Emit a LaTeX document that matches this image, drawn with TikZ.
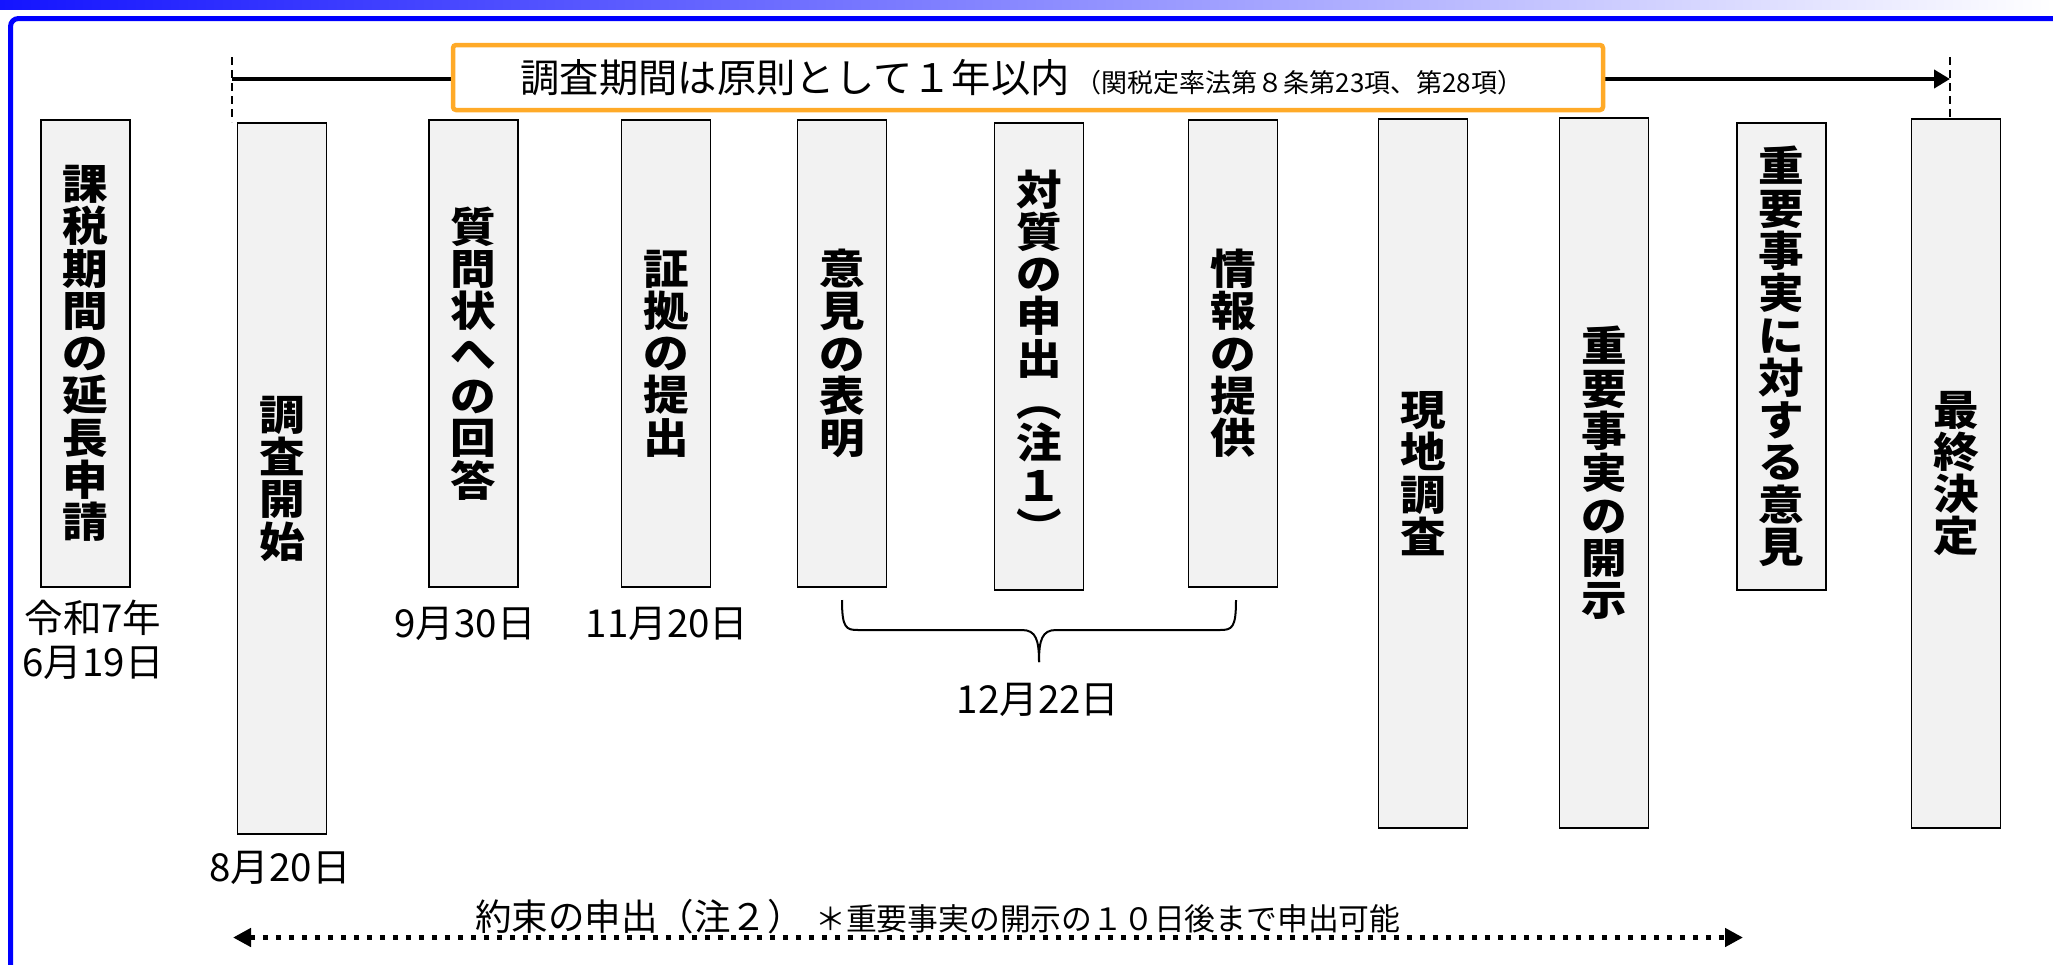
\documentclass[tikz,border=0pt]{standalone}
\usepackage{fontspec}
\setmainfont{Noto Sans CJK JP}
\newfontfamily\vjp{Noto Sans CJK JP}[FakeStretch=1.1]
\usetikzlibrary{arrows.meta}
\definecolor{frameblue}{RGB}{0,0,255}
\definecolor{gradblue}{RGB}{20,20,255}
\definecolor{orangec}{RGB}{255,170,40}
\definecolor{boxfill}{RGB}{242,242,242}
\newcommand{\vfnt}{\vjp\bfseries\fontsize{41.5}{42.3}\selectfont}
\newcommand{\dfnt}{\fontsize{38.5}{44}\selectfont}
\begin{document}
\begin{tikzpicture}[x=1pt,y=-1pt,
  stepbox/.style={draw=black, fill=boxfill, line width=1.8pt, inner sep=0pt, align=center, font=\vfnt, minimum width=89pt},
  shortbox/.style={stepbox, minimum height=467pt},
  longbox/.style={stepbox, minimum height=710pt},
  datelbl/.style={font=\dfnt, inner sep=0pt, align=center},
  dashv/.style={line width=1.5pt, dash pattern=on 8pt off 5pt},
  brc/.style={line width=2pt}]
\useasboundingbox (0,0) rectangle (2053,964);
% header gradient and frame
\shade[left color=gradblue, right color=white] (0,0) rectangle (2053,9);
\draw[frameblue, line width=5pt, rounded corners=8pt] (2100,18.5) -- (10.5,18.5) -- (10.5,1000);
% period arrow
\coordinate (tsu) at (232,57);
\coordinate (tsd) at (232,122);
\coordinate (teu) at (1950,57);
\coordinate (ted) at (1950,118);
\coordinate (ts) at (232,79);
\coordinate (te) at (1950,79);
\draw[dashv] (tsu) -- (tsd);
\draw[dashv] (teu) -- (ted);
\draw[line width=4pt, -{Triangle[length=16pt,width=18pt]}] (ts) -- (te);
\node[draw=orangec, line width=4.5pt, fill=white, rounded corners=3pt, minimum width=1150pt, minimum height=65pt, inner sep=0pt] (title) at (1028,77.5) {};
\node[inner sep=0pt, anchor=base] (titletext) at (1022,92) {{\fontsize{39.3}{41}\selectfont 調査期間は原則として１年以内}\hspace{6pt}{\fontsize{26}{28}\selectfont （関税定率法第８条第23項、第28項）}};
% boxes
\node[shortbox] (b1) at (85.5,353.5) {課\\税\\期\\間\\の\\延\\長\\申\\請};
\node[longbox, minimum height=711pt] (b2) at (282,478.5) {調\\査\\開\\始};
\node[shortbox] (b3) at (473.5,353.5) {質\\問\\状\\へ\\の\\回\\答};
\node[shortbox] (b4) at (666,353.5) {証\\拠\\の\\提\\出};
\node[shortbox] (b5) at (842,353.5) {意\\見\\の\\表\\明};
\node[shortbox] (b6) at (1039,356.5) {対\\質\\の\\申\\出\\︵\\注\\１\\︶};
\node[shortbox] (b7) at (1233,353.5) {情\\報\\の\\提\\供};
\node[longbox, minimum height=709pt] (b8) at (1423,473.5) {現\\地\\調\\査};
\node[longbox] (b9) at (1604,473) {重\\要\\事\\実\\の\\開\\示};
\node[shortbox] (b10) at (1781.5,356.5) {重\\要\\事\\実\\に\\対\\す\\る\\意\\見};
\node[longbox, minimum height=709pt] (b11) at (1956,473.5) {最\\終\\決\\定};
% dates
\node[datelbl] (d1) at (93,640) {令和7年\\6月19日};
\node[datelbl] (d2) at (280,868) {8月20日};
\node[datelbl] (d3) at (465,624) {9月30日};
\node[datelbl] (d4) at (667,624) {11月20日};
\node[datelbl] (d5) at (1038,700) {12月22日};
% brace
\coordinate (brl) at (842,600);
\coordinate (brr) at (1236,600);
\coordinate (brt) at (1039,662);
\draw[brc] (brl) .. controls (842,628) and (846,630) .. (858,630) -- (1022,630) .. controls (1036,630) and (1039,640) .. (brt);
\draw[brc] (brr) .. controls (1236,628) and (1232,630) .. (1220,630) -- (1056,630) .. controls (1042,630) and (1039,640) .. (brt);
% commitment arrow
\coordinate (bl) at (233,937.5);
\coordinate (br) at (1743,937.5);
\draw[line width=5pt, dash pattern=on 5pt off 8pt, {Triangle[length=18pt,width=18pt]}-{Triangle[length=18pt,width=18pt]}] (bl) -- (br);
\node[inner sep=0pt, anchor=base west, font=\fontsize{36.5}{40}\selectfont] (pl) at (475,930) {約束の申出（注２）};
\node[inner sep=0pt, anchor=base west, font=\fontsize{30.8}{34}\selectfont] (pn) at (815,930) {＊重要事実の開示の１０日後まで申出可能};
\end{tikzpicture}
\end{document}
